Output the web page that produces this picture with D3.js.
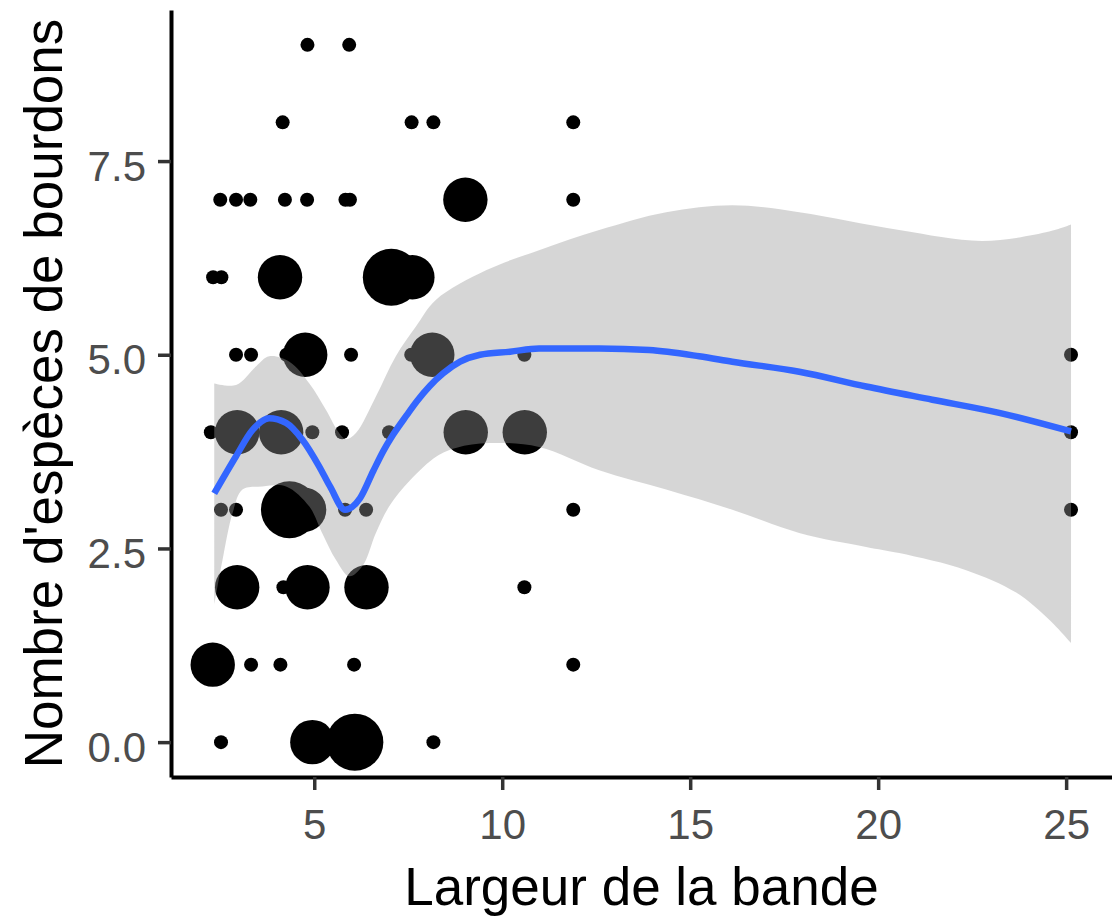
<!DOCTYPE html>
<html>
<head>
<meta charset="utf-8">
<script src="https://cdn.jsdelivr.net/npm/d3@7"></script>
<style>
  html, body { margin: 0; padding: 0; background: #ffffff; }
  svg { display: block; }
  text { font-family: "Liberation Sans", Arial, sans-serif; }
</style>
</head>
<body>
<svg id="chart" width="1112" height="918"></svg>
<script>
// ---- Data ----
const xTicks = [5, 10, 15, 20, 25];
const yTicks = [0, 2.5, 5, 7.5];
const yTickLabels = ["0.0", "2.5", "5.0", "7.5"];
const xTitle = "Largeur de la bande";
const yTitle = "Nombre d'espèces de bourdons";

// observed points (x = largeur, y = nombre d'espèces, n = count at that position)
const pointX = [
  4.82, 5.93,
  4.16, 7.59, 8.17, 11.89,
  2.50, 2.92, 3.30, 4.22, 4.81, 5.83, 5.95, 9.02, 11.89,
  2.31, 2.53, 4.09, 7.05, 7.61,
  2.92, 3.32, 4.26, 4.76, 5.98, 7.58, 8.14, 10.59, 25.13,
  2.25, 2.95, 4.12, 4.95, 5.74, 6.99, 9.03, 10.60, 25.13,
  2.52, 2.92, 4.34, 4.73, 5.82, 6.38, 11.89, 25.13,
  2.95, 4.18, 4.82, 6.39, 10.59,
  2.30, 3.32, 4.10, 6.06, 11.89,
  2.52, 4.95, 6.08, 8.17
];
const pointY = [
  9, 9,
  8, 8, 8, 8,
  7, 7, 7, 7, 7, 7, 7, 7, 7,
  6, 6, 6, 6, 6,
  5, 5, 5, 5, 5, 5, 5, 5, 5,
  4, 4, 4, 4, 4, 4, 4, 4, 4,
  3, 3, 3, 3, 3, 3, 3, 3,
  2, 2, 2, 2, 2,
  1, 1, 1, 1, 1,
  0, 0, 0, 0
];
const pointN = [
  1, 1,
  1, 1, 1, 1,
  1, 1, 1, 1, 1, 1, 1, 2, 1,
  1, 1, 2, 3, 2,
  1, 1, 1, 2, 1, 1, 2, 1, 1,
  1, 2, 2, 1, 1, 1, 2, 2, 1,
  1, 1, 3, 2, 1, 1, 1, 1,
  2, 1, 2, 2, 1,
  2, 1, 1, 1, 1,
  1, 2, 3, 1
];

// loess fit
const fitX = [2.34, 2.92, 3.36, 3.80, 4.25, 4.69, 5.13, 5.42, 5.82, 6.22, 6.57, 6.84, 7.10, 7.46, 7.73, 8.08, 8.43, 8.88, 9.41, 10.21, 10.98, 12.58, 13.91, 15.24, 16.12, 17.90, 19.68, 21.44, 23.22, 25.13];
const fitY = [3.21, 3.69, 4.03, 4.18, 4.12, 3.90, 3.56, 3.30, 3.00, 3.15, 3.50, 3.76, 3.97, 4.22, 4.40, 4.60, 4.76, 4.91, 5.00, 5.04, 5.08, 5.08, 5.06, 4.98, 4.91, 4.78, 4.59, 4.42, 4.25, 4.01];

// confidence band
const bandHiX = [2.34, 2.92, 3.45, 3.80, 4.34, 4.87, 5.31, 5.66, 5.84, 6.11, 6.64, 7.17, 7.70, 8.24, 9.57, 10.98, 12.58, 14.36, 16.12, 17.90, 20.56, 22.77, 24.55, 25.13];
const bandHiY = [4.63, 4.61, 4.85, 4.98, 4.91, 4.63, 4.29, 3.99, 3.91, 3.99, 4.46, 4.98, 5.36, 5.71, 6.09, 6.35, 6.61, 6.84, 6.93, 6.84, 6.61, 6.47, 6.59, 6.68];
const bandLoX = [2.34, 2.56, 2.83, 3.09, 3.62, 4.25, 4.87, 5.21, 5.58, 5.93, 6.28, 6.64, 6.99, 7.55, 8.26, 8.79, 9.65, 10.98, 12.58, 14.36, 16.12, 17.90, 19.68, 20.56, 22.34, 23.67, 24.55, 25.13];
const bandLoY = [1.77, 2.35, 2.96, 3.26, 3.30, 3.30, 3.04, 2.70, 2.35, 2.14, 2.27, 2.70, 3.04, 3.38, 3.69, 3.80, 3.86, 3.81, 3.51, 3.26, 3.00, 2.70, 2.52, 2.44, 2.22, 1.93, 1.58, 1.28];

// ---- Drawing ----
const svg = d3.select("#chart");
svg.append("rect").attr("width", 1112).attr("height", 918).attr("fill", "#ffffff");

const panel = { left: 171, right: 1112, top: 10, bottom: 777 };
const x = d3.scaleLinear().domain([1.19, 26.22]).range([panel.left, panel.right]);
const y = d3.scaleLinear().domain([-0.45, 9.45]).range([panel.bottom, panel.top]);

const nMax = d3.max(pointN);
const sizeScale = d3.scaleLinear().domain([0, 1]).range([7, 28.5]);
const radius = n => sizeScale(Math.sqrt((n - 1) / (nMax - 1)));

const points = pointX.map((v, i) => ({ x: v, y: pointY[i], n: pointN[i] }));

const plot = svg.append("g");
plot.selectAll("circle.pt")
  .data(points)
  .join("circle")
  .attr("class", "pt")
  .attr("cx", d => x(d.x))
  .attr("cy", d => y(d.y))
  .attr("r", d => radius(d.n))
  .attr("fill", "#000000");

// ribbon
const hi = bandHiX.map((v, i) => [x(v), y(bandHiY[i])]);
const lo = bandLoX.map((v, i) => [x(v), y(bandLoY[i])]).reverse();
const curveLine = d3.line().curve(d3.curveCatmullRom.alpha(0.5));
const ribbonPath = curveLine(hi) + curveLine(lo).replace(/^M/, "L") + "Z";
plot.append("path")
  .attr("d", ribbonPath)
  .attr("fill", "#999999")
  .attr("fill-opacity", 0.4)
  .attr("stroke", "none");

// fitted line
const fitLine = d3.line()
  .x((d, i) => x(fitX[i]))
  .y(d => y(d))
  .curve(d3.curveMonotoneX);
plot.append("path")
  .attr("d", fitLine(fitY))
  .attr("fill", "none")
  .attr("stroke", "#3366FF")
  .attr("stroke-width", 6.5);

// axes
const xAxis = svg.append("g")
  .attr("transform", `translate(0,${panel.bottom})`)
  .call(d3.axisBottom(x).tickValues(xTicks).tickFormat(d3.format("d")).tickSize(13).tickSizeOuter(0));
const yAxis = svg.append("g")
  .attr("transform", `translate(${panel.left},0)`)
  .call(d3.axisLeft(y).tickValues(yTicks).tickFormat((d, i) => yTickLabels[i]).tickSize(13).tickSizeOuter(0));

[xAxis, yAxis].forEach(g => {
  g.select(".domain").attr("stroke", "#000000").attr("stroke-width", 4);
  g.selectAll(".tick line").attr("stroke", "#333333").attr("stroke-width", 3.5);
  g.selectAll(".tick text")
    .attr("fill", "#4D4D4D")
    .style("font-size", "42px")
    .style("font-family", "'Liberation Sans', Arial, sans-serif");
});
xAxis.selectAll(".tick text").attr("y", 62).attr("dy", 0);
yAxis.selectAll(".tick text").attr("x", -25).attr("dy", 19);

// titles
svg.append("text")
  .attr("x", (panel.left + panel.right) / 2)
  .attr("y", 905)
  .attr("text-anchor", "middle")
  .style("font-size", "53px")
  .attr("fill", "#000000")
  .text(xTitle);

svg.append("text")
  .attr("transform", `translate(62,${(panel.top + panel.bottom) / 2}) rotate(-90)`)
  .attr("text-anchor", "middle")
  .style("font-size", "53px")
  .attr("fill", "#000000")
  .text(yTitle);
</script>
</body>
</html>
